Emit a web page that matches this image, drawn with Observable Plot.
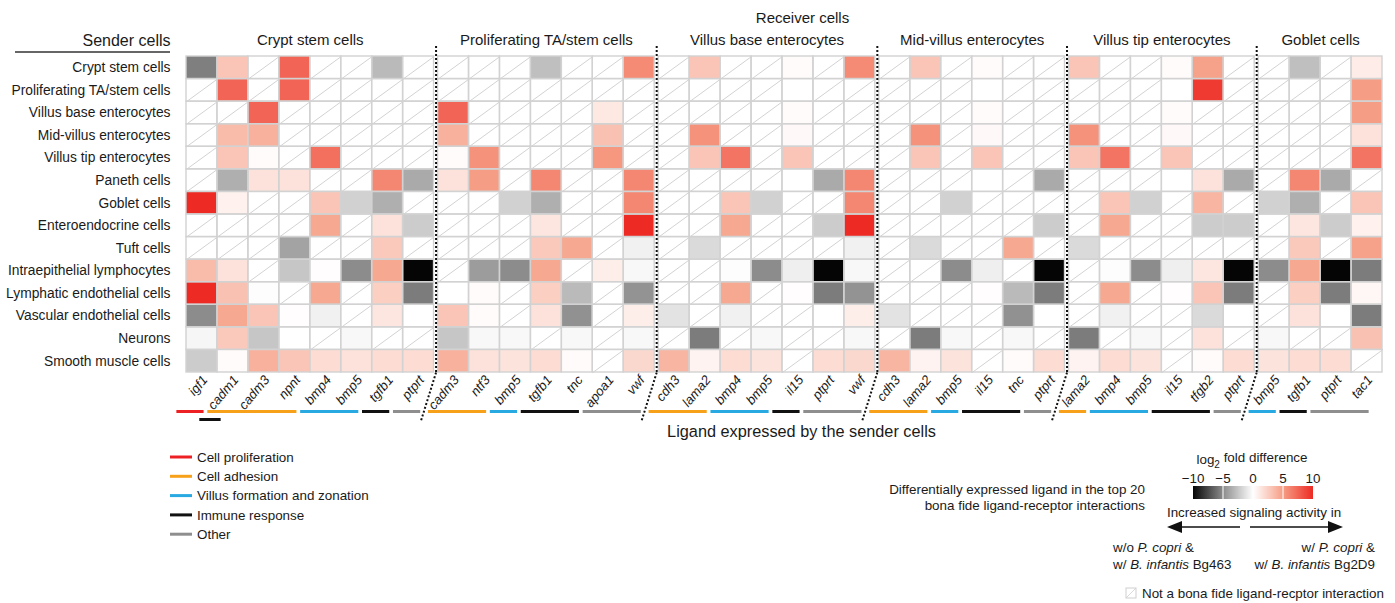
<!DOCTYPE html>
<html><head><meta charset="utf-8">
<script src="https://cdn.jsdelivr.net/npm/d3@7"></script>
<script src="https://cdn.jsdelivr.net/npm/@observablehq/plot@0.6"></script>
<style>body{margin:0;background:#fff;} svg{font-family:"Liberation Sans",Arial,sans-serif;}</style>
</head><body><div id="chart"></div>
<script>
const N = null;
const senders = ["Crypt stem cells","Proliferating TA/stem cells","Villus base enterocytes","Mid-villus enterocytes","Villus tip enterocytes","Paneth cells","Goblet cells","Enteroendocrine cells","Tuft cells","Intraepithelial lymphocytes","Lymphatic endothelial cells","Vascular endothelial cells","Neurons","Smooth muscle cells"];
const receivers = ["Crypt stem cells","Proliferating TA/stem cells","Villus base enterocytes","Mid-villus enterocytes","Villus tip enterocytes","Goblet cells"];

const ligCrypt  = ["igf1","cadm1","cadm3","npnt","bmp4","bmp5","tgfb1","ptprt"];
const ligProlif = ["cadm3","ntf3","bmp5","tgfb1","tnc","apoa1","vwf"];
const ligBase   = ["cdh3","lama2","bmp4","bmp5","il15","ptprt","vwf"];
const ligMid    = ["cdh3","lama2","bmp5","il15","tnc","ptprt"];
const ligTip    = ["lama2","bmp4","bmp5","il15","tfgb2","ptprt"];
const ligGoblet = ["bmp5","tgfb1","ptprt","tac1"];

// log2 fold difference per sender (rows) x ligand (cols); null = not a bona fide interaction
const valCrypt = [
  [-5.5,3,N,7.5,N,N,-3,N],
  [N,7.5,N,7.5,N,N,N,N],
  [N,N,7.5,N,N,N,N,N],
  [N,3.5,4,N,N,N,N,N],
  [N,3,0.2,N,7,N,N,N],
  [N,-3.5,1.5,1.5,N,N,6,-3.7],
  [10,0.7,N,N,3,-2,-3.5,N],
  [N,N,N,N,4.5,N,1.5,-2.2],
  [N,N,N,-4,N,N,2.8,N],
  [3.5,1.5,N,-2.5,0.1,-5,4.5,-10],
  [10,3.2,-0.1,N,4.5,N,2.5,-5.6],
  [-5,4.5,3,0.1,-0.6,N,1.3,0],
  [-0.4,2.8,-2.5,0,N,-0.3,N,N],
  [-2.2,0.2,4,3,1.8,1.5,1.8,1.8]
];
const valProlif = [
  [N,N,N,-2.8,N,N,5.8],
  [N,N,N,N,N,N,N],
  [7.5,N,N,N,N,1.2,N],
  [4,N,N,N,N,3.2,N],
  [0.2,5.5,N,N,N,5.3,N],
  [1.5,5,N,6,N,N,6],
  [N,N,-2,-3.5,N,N,6],
  [N,N,N,1.3,N,N,10],
  [N,N,N,2.8,4.5,N,-0.6],
  [N,-4.3,-5,4.5,N,0.9,-0.3],
  [0,0.2,N,2.5,-3,N,-4.7],
  [3,0.2,N,1.5,-4.8,N,0.9],
  [-2.5,-0.3,-0.3,N,-0.3,N,-0.3],
  [4,1.5,1.4,1.8,0.2,N,2]
];
const valBase = [
  [N,3,N,N,0.2,N,5.8],
  [N,N,N,N,0,N,N],
  [N,N,N,N,0.2,N,N],
  [N,5.5,N,N,0.3,N,N],
  [N,3,6.8,N,3,N,N],
  [N,N,N,N,0,-3.7,6],
  [N,N,3,-2,N,N,6],
  [N,N,4.5,N,N,-2.2,10],
  [N,-1.6,N,N,N,N,-0.6],
  [N,N,-0.1,-5,-0.7,-10,-0.3],
  [N,N,4.5,N,0.1,-5.6,-4.7],
  [-1.2,N,-0.6,N,N,0,0.9],
  [N,-5.6,N,-0.3,N,N,-0.3],
  [3.8,0.6,1.8,1.4,N,1.8,2]
];
const valMid = [
  [N,3,N,0.2,N,N],
  [N,N,N,0,N,N],
  [N,N,N,0.2,N,N],
  [N,5.5,N,0.3,N,N],
  [N,3,N,3,N,N],
  [N,N,N,0,N,-3.7],
  [N,N,-2,N,N,N],
  [N,N,N,N,N,-2.2],
  [N,-1.6,N,N,4.5,N],
  [N,N,-5,-0.7,N,-10],
  [N,N,N,0.1,-3,-5.6],
  [-1.2,N,N,N,-4.8,0],
  [N,-5.6,-0.3,N,-0.3,N],
  [3.8,0.6,1.4,N,0.2,1.8]
];
const valTip = [
  [3,N,N,0.2,4.8,N],
  [N,N,N,0,9.3,N],
  [N,N,N,0.2,N,N],
  [5.5,N,N,0.3,N,N],
  [3,6.8,N,3,N,N],
  [N,N,N,0,1.5,-3.7],
  [N,3,-2,N,3.8,N],
  [N,4.5,N,N,-2.2,-2.2],
  [-1.6,N,N,N,N,N],
  [N,-0.1,-5,-0.7,1.3,-10],
  [N,4.5,N,0.1,3,-5.6],
  [N,-0.6,N,N,-1.6,0],
  [-5.6,N,-0.3,N,1.5,N],
  [0.6,1.8,1.4,N,0.2,1.8]
];
const valGoblet = [
  [N,-2.8,N,1],
  [N,N,N,5],
  [N,N,N,5],
  [N,N,N,1.5],
  [N,N,N,6.8],
  [N,6,-3.7,N],
  [-2,-3.5,N,3],
  [N,1.3,-2.2,0.7],
  [N,2.8,N,4.8],
  [-5,4.5,-10,-5.6],
  [N,2.5,-5.6,0.4],
  [N,1.5,0,-5.6],
  [-0.3,N,N,3.2],
  [1.4,1.8,1.8,N]
];

const fnNames  = ["Cell proliferation","Cell adhesion","Villus formation and zonation","Immune response","Other"];
const fnColors = ["#ed2124","#f7a11a","#29a9e1","#111111","#8e8e8e"];
// function category of each ligand (index into fnNames)
const fnCrypt  = [0,1,1,1,2,2,3,4];
const fnProlif = [1,1,2,3,3,4,4];
const fnBase   = [1,1,2,2,3,4,4];
const fnMid    = [1,1,2,3,3,4];
const fnTip    = [1,2,2,3,3,4];
const fnGoblet = [2,3,4,4];
const fnExtra  = [{group: 0, col: 1, fn: 3}]; // cadm1 also immune response

const colorDomain = [-10,-5,0,5,10];
const colorRange  = ["#050505","#8c8c8c","#ffffff","#f69e85","#ee2a24"];

const ligands = [ligCrypt, ligProlif, ligBase, ligMid, ligTip, ligGoblet];
const values  = [valCrypt, valProlif, valBase, valMid, valTip, valGoblet];
const fns     = [fnCrypt, fnProlif, fnBase, fnMid, fnTip, fnGoblet];

const GAP = 0.13;
const offsets = []; let acc = 0;
ligands.forEach((l, g) => { offsets.push(acc + g * GAP); acc += l.length; });
const total = acc + (ligands.length - 1) * GAP;

const cells = [];
values.forEach((mat, g) => mat.forEach((row, i) => row.forEach((v, j) =>
  cells.push({g, x: offsets[g] + j, row: i, value: v}))));
const valued = cells.filter(d => d.value !== null);
const na = cells.filter(d => d.value === null);
const cols = ligands.flatMap((l, g) => l.map((name, j) => ({name, x: offsets[g] + j + 0.5})));
const groupInfo = receivers.map((r, g) => ({name: r, x: offsets[g] + ligands[g].length / 2}));
const seps = offsets.slice(1).map(o => o - GAP / 2);
const segs = [];
fns.forEach((f, g) => {
  let s = 0;
  for (let j = 1; j <= f.length; j++) {
    if (j === f.length || f[j] !== f[s]) { segs.push({fn: f[s], x1: offsets[g] + s, x2: offsets[g] + j}); s = j; }
  }
});
const extraSegs = fnExtra.map(e => ({fn: e.fn, x1: offsets[e.group] + e.col, x2: offsets[e.group] + e.col + 1}));

const FONT = "Liberation Sans, Arial, sans-serif";
const pxX = 1196 / total, pxY = 316 / 14;

const chart = Plot.plot({
  width: 1395, height: 603,
  marginLeft: 186, marginRight: 13, marginTop: 56, marginBottom: 231,
  x: {domain: [0, total], axis: null},
  y: {domain: [0, 14], reverse: true, axis: null},
  color: {type: "linear", domain: colorDomain, range: colorRange, clamp: true},
  style: {fontFamily: FONT, color: "#1a1a1a", background: "white", overflow: "visible"},
  marks: [
    Plot.rect(na, {x1: "x", x2: d => d.x + 1, y1: "row", y2: d => d.row + 1, fill: "white"}),
    Plot.rect(valued, {x1: "x", x2: d => d.x + 1, y1: "row", y2: d => d.row + 1, fill: "value"}),
    Plot.link(na, {x1: "x", y1: d => d.row + 1, x2: d => d.x + 1, y2: "row", stroke: "#cdcdcd", strokeWidth: 0.9}),
    Plot.rect(cells, {x1: "x", x2: d => d.x + 1, y1: "row", y2: d => d.row + 1, fill: "none", stroke: "#d2d2d2", strokeWidth: 1.4}),
    Plot.ruleX(seps, {x: d => d, y1: -10 / pxY, y2: 14, stroke: "#111", strokeWidth: 2, strokeDasharray: "2,2"}),
    Plot.link(seps, {x1: d => d, y1: 14, x2: d => d - 15 / pxX, y2: 14 + 48 / pxY, stroke: "#111", strokeWidth: 2, strokeDasharray: "2,2"}),
    Plot.text(senders, {x: 0, y: (d, i) => i + 0.5, text: d => d, textAnchor: "end", dx: -16, fontSize: 13.8}),
    Plot.text(cols, {x: "x", y: 14, text: "name", rotate: -50, textAnchor: "end", lineAnchor: "middle", dx: 3, dy: 5, fontSize: 13.2, fontStyle: "italic"}),
    Plot.text(groupInfo, {x: "x", y: 0, text: "name", dy: -16, fontSize: 15, lineAnchor: "middle"}),
    Plot.text(["Receiver cells"], {x: total / 2, y: 0, text: d => d, dx: 18, dy: -38, fontSize: 15, lineAnchor: "middle"}),
    Plot.text(["Sender cells"], {x: 0, y: 0, text: d => d, textAnchor: "end", dx: -16, dy: -16, fontSize: 16, lineAnchor: "middle"}),
    Plot.link(segs, {x1: d => d.x1 + 0.06, x2: d => d.x2 - 0.06, y1: 14, y2: 14, dx: -12, dy: 39, stroke: d => fnColors[d.fn], strokeWidth: 3}),
    Plot.link(extraSegs, {x1: d => d.x1 + 0.06, x2: d => d.x2 - 0.25, y1: 14, y2: 14, dx: -20, dy: 47, stroke: d => fnColors[d.fn], strokeWidth: 3}),
    Plot.text(["Ligand expressed by the sender cells"], {x: total / 2, y: 14, text: d => d, dx: 17, dy: 59, fontSize: 16.3, lineAnchor: "middle"})
  ]
});
document.getElementById("chart").appendChild(chart);

// ---- legends ----
const svg = d3.select(chart);
const L = svg.append("g").attr("font-family", FONT).attr("font-size", 13.4).attr("fill", "#1a1a1a").attr("text-anchor", "start");
// sender underline
L.append("line").attr("x1", 15).attr("x2", 170).attr("y1", 52).attr("y2", 52).attr("stroke", "#333").attr("stroke-width", 1.5);

// function legend
fnNames.forEach((n, i) => {
  const y = 457 + i * 19.3;
  L.append("line").attr("x1", 170).attr("x2", 192).attr("y1", y).attr("y2", y).attr("stroke", fnColors[i]).attr("stroke-width", 3);
  L.append("text").attr("x", 197).attr("y", y).attr("dy", "0.35em").text(n);
});

// color bar
const colorScale = chart.scale("color");
const cb = {x: 1193, w: 120, y: 486, h: 13};
const grad = svg.append("defs").append("linearGradient").attr("id", "cbgrad");
d3.range(-10, 10.01, 1).forEach(v => grad.append("stop").attr("offset", ((v + 10) / 20 * 100) + "%").attr("stop-color", colorScale.apply(v)));
L.append("rect").attr("x", cb.x).attr("y", cb.y).attr("width", cb.w).attr("height", cb.h).attr("fill", "url(#cbgrad)");
colorDomain.forEach(v => {
  const x = cb.x + (v + 10) / 20 * cb.w;
  if (v !== -10 && v !== 10 && v !== 0) L.append("line").attr("x1", x).attr("x2", x).attr("y1", cb.y).attr("y2", cb.y + cb.h).attr("stroke", "white").attr("stroke-width", 1);
  L.append("text").attr("x", x).attr("y", 478).attr("dy", "0.35em").attr("text-anchor", "middle").text(v < 0 ? "\u2212" + Math.abs(v) : String(v));
});
const t1 = L.append("text").attr("x", 1252).attr("y", 459).attr("dy", "0.35em").attr("text-anchor", "middle");
t1.append("tspan").text("log");
t1.append("tspan").attr("font-size", 10).attr("dy", "0.45em").text("2");
t1.append("tspan").attr("dy", "-0.45em").text(" fold difference");

L.append("text").attr("x", 1145).attr("y", 489).attr("dy", "0.35em").attr("text-anchor", "end").text("Differentially expressed ligand in the top 20");
L.append("text").attr("x", 1145).attr("y", 505).attr("dy", "0.35em").attr("text-anchor", "end").text("bona fide ligand-receptor interactions");
L.append("text").attr("x", 1254).attr("y", 512).attr("dy", "0.35em").attr("text-anchor", "middle").text("Increased signaling activity in");

// arrows
L.append("line").attr("x1", 1240).attr("x2", 1180).attr("y1", 527).attr("y2", 527).attr("stroke", "#111").attr("stroke-width", 1.6);
L.append("path").attr("d", "M1167,527 L1182,521 L1182,533 Z").attr("fill", "#111");
L.append("line").attr("x1", 1250).attr("x2", 1330).attr("y1", 527).attr("y2", 527).attr("stroke", "#111").attr("stroke-width", 1.6);
L.append("path").attr("d", "M1343,527 L1328,521 L1328,533 Z").attr("fill", "#111");

function mixed(x, y, anchor, parts) {
  const t = L.append("text").attr("x", x).attr("y", y).attr("dy", "0.35em").attr("text-anchor", anchor);
  parts.forEach(p => t.append("tspan").attr("font-style", p[1] ? "italic" : "normal").text(p[0]));
}
mixed(1113, 547, "start", [["w/o ", 0], ["P. copri", 1], [" &", 0]]);
mixed(1113, 564, "start", [["w/ ", 0], ["B. infantis", 1], [" Bg463", 0]]);
mixed(1375, 547, "end", [["w/ ", 0], ["P. copri", 1], [" &", 0]]);
mixed(1375, 564, "end", [["w/ ", 0], ["B. infantis", 1], [" Bg2D9", 0]]);

// NA legend
L.append("rect").attr("x", 1126).attr("y", 588).attr("width", 10).attr("height", 10).attr("fill", "white").attr("stroke", "#cfcfcf").attr("stroke-width", 1);
L.append("line").attr("x1", 1126).attr("y1", 598).attr("x2", 1136).attr("y2", 588).attr("stroke", "#cfcfcf").attr("stroke-width", 0.8);
L.append("text").attr("x", 1142).attr("y", 593).attr("dy", "0.35em").text("Not a bona fide ligand-recptor interaction");
</script></body></html>
